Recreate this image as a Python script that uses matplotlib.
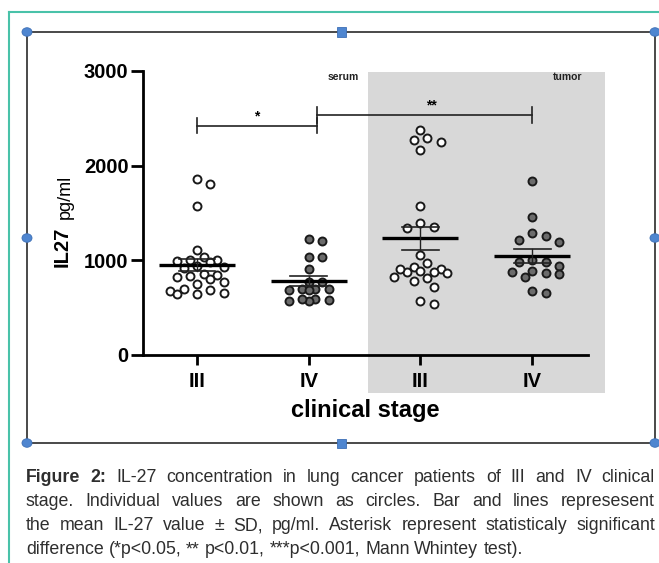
import numpy as np
import matplotlib
matplotlib.use("Agg")
import matplotlib.pyplot as plt
from matplotlib.patches import Rectangle, Circle
from matplotlib.lines import Line2D

# ---------------- data ----------------
stage_labels = ["III", "IV", "III", "IV"]
site_labels = ["serum", "tumor"]
serum_III = [1860, 1810, 1570, 1110, 1030, 1000, 1000, 990, 985, 940, 930, 920,
             860, 850, 830, 820, 800, 770, 750, 700, 690, 680, 650, 640, 640]
serum_IV = [1225, 1200, 1030, 1030, 905, 775, 775, 700, 700, 690, 690, 700,
            595, 580, 570, 575, 590]
tumor_III = [2377, 2271, 2253, 2295, 2165, 1577, 1391, 1338, 1349, 1056, 968, 933,
             905, 887, 880, 880, 905, 820, 785, 817, 863, 722, 535, 570]
tumor_IV = [1841, 1454, 1285, 1215, 1197, 1257, 1003, 979, 979, 940, 887, 852,
            827, 869, 880, 658, 679]
groups = [serum_III, serum_IV, tumor_III, tumor_IV]
filled = [False, True, False, True]
y_ticks = [0, 1000, 2000, 3000]
sig_labels = ["*", "**"]
sig_pairs = [(0, 1.07), (1.07, 3)]
sig_heights = [2420, 2535]
caption_lines = [
    [("Figure", True), ("2:", True), ("IL-27", False), ("concentration", False), ("in", False),
     ("lung", False), ("cancer", False), ("patients", False), ("of", False), ("III", False),
     ("and", False), ("IV", False), ("clinical", False)],
    [(w, False) for w in "stage. Individual values are shown as circles. Bar and lines represesent".split()],
    [(w, False) for w in "the mean IL-27 value \u00b1 SD, pg/ml. Asterisk represent statisticaly significant".split()],
    [(w, False) for w in "difference (*p<0.05, ** p<0.01, ***p<0.001, Mann Whintey test).".split()],
]

# ---------------- figure ----------------
W, H, DPI = 659, 563, 100
plt.rcParams["font.family"] = ["Liberation Sans", "DejaVu Sans"]
cap_family = ["Liberation Sans", "DejaVu Sans"]
cap_font = 12.8

fig = plt.figure(figsize=(W / DPI, H / DPI), dpi=DPI)
fig.patch.set_facecolor("white")


def fx(x):
    return x / W


def fy(y):
    return 1 - y / H


# page decorations (teal page border, selection frame, handles)
teal = "#49c2a9"
fig.add_artist(Line2D([fx(9), fx(W + 5)], [fy(12), fy(12)], color=teal, lw=1.5, zorder=1))
fig.add_artist(Line2D([fx(9), fx(9)], [fy(12), fy(H + 5)], color=teal, lw=1.5, zorder=1))
fig.add_artist(Rectangle((fx(27), fy(443)), fx(628), 411 / H, fill=False,
                         ec="#3a3a3a", lw=1.3, zorder=1))
blue = "#4f86d0"
for (hx, hy) in [(27, 32), (655, 32), (27, 238), (655, 238), (27, 443), (655, 443)]:
    fig.add_artist(Circle((fx(hx), fy(hy)), 5 / W, transform=fig.transFigure,
                          fc=blue, ec="#3d6fb5", lw=0.6, zorder=5))
for (hx, hy) in [(341, 32), (341, 443)]:
    fig.add_artist(Rectangle((fx(hx - 4.5), fy(hy + 4.5)), 9 / W, 9 / H,
                             fc=blue, ec="#3d6fb5", lw=0.6, zorder=5))

# grey tumor panel
fig.add_artist(Rectangle((fx(368), fy(393)), 237 / W, 321 / H, fc="#d8d8d8",
                         ec="none", zorder=-1))

# axes
ax_l, ax_r, ax_t, ax_b = 143, 588, 71, 355
ax = fig.add_axes([fx(ax_l), fy(ax_b), (ax_r - ax_l) / W, (ax_b - ax_t) / H])
ax.patch.set_alpha(0)
xlim = (-0.483, 3.5)
ax.set_xlim(*xlim)
ax.set_ylim(0, 3000)
for s in ["top", "right"]:
    ax.spines[s].set_visible(False)
for s in ["left", "bottom"]:
    ax.spines[s].set_linewidth(2.0)
ax.set_yticks(y_ticks)
ax.set_yticklabels([str(v) for v in y_ticks], fontsize=14.5, fontweight="bold")
ax.set_xticks(range(4))
ax.set_xticklabels(stage_labels, fontsize=14.5, fontweight="bold")
ax.tick_params(axis="y", length=9, width=2.0, pad=1.5)
ax.tick_params(axis="x", length=7, width=2.0, pad=5)

px_per_x = (ax_r - ax_l) / (xlim[1] - xlim[0])
px_per_y = (ax_b - ax_t) / 3000.0


def swarm(values, center, step_px=6.7, min_dist=9.5, max_k=4):
    vals = np.asarray(values, float)
    order = np.argsort(-vals)
    placed = []
    xs = np.zeros(len(vals))
    cand = [0]
    for k in range(1, max_k + 1):
        cand += [k, -k]
    for i in order:
        ypx = vals[i] * px_per_y
        best, best_d = 0, -1
        for k in cand:
            xpx = k * step_px
            d = min([np.hypot(xpx - a, ypx - b) for a, b in placed] or [1e9])
            if d >= min_dist:
                best = xpx
                break
            if d > best_d:
                best, best_d = xpx, d
        placed.append((best, ypx))
        xs[i] = center + best / px_per_x
    return xs


for gi, vals in enumerate(groups):
    xs = swarm(vals, gi)
    fc = "#6b6b6b" if filled[gi] else "white"
    ax.scatter(xs, vals, s=33, facecolor=fc, edgecolor="#1a1a1a", linewidths=1.4,
               zorder=3, clip_on=False)
    v = np.asarray(vals, float)
    m = v.mean()
    se = v.std(ddof=1) / np.sqrt(len(v))
    ax.plot([gi - 0.34, gi + 0.34], [m, m], color="black", lw=2.4, zorder=4,
            solid_capstyle="butt")
    ax.plot([gi, gi], [m - se, m + se], color="#222222", lw=1.0, zorder=4)
    for yy in (m - se, m + se):
        ax.plot([gi - 0.165, gi + 0.165], [yy, yy], color="#222222", lw=1.2, zorder=4)

# significance brackets
cap = 80
for (x0, x1), yb, lab in zip(sig_pairs, sig_heights, sig_labels):
    ax.plot([x0, x1], [yb, yb], color="#222222", lw=1.2, zorder=4)
    for xx in (x0, x1):
        ax.plot([xx, xx], [yb - cap, yb + cap], color="#222222", lw=1.2, zorder=4)
    ax.text((x0 + x1) / 2 if lab == "*" else 2.095, yb + 25, lab, ha="center",
            va="bottom", fontsize=10, fontweight="bold")

ax.text(1.307, 2935, site_labels[0], ha="center", va="center", fontsize=7.5,
        fontweight="bold", color="#222222")
ax.text(3.32, 2935, site_labels[1], ha="center", va="center", fontsize=7.5,
        fontweight="bold", color="#222222")

# axis titles
fig.text(fx(365), fy(410), "clinical stage", ha="center", va="center",
         fontsize=17, fontweight="bold")
fig.text(fx(62), fy(247), "IL27", rotation=90, ha="center", va="center",
         fontsize=14.5, fontweight="bold")
fig.text(fx(65), fy(197), "pg/ml", rotation=90, ha="center", va="center",
         fontsize=13)

# caption, justified
renderer = fig.canvas.get_renderer()
cap_color = "#2e2e2e"


def text_w(s, bold):
    t = fig.text(0, 0, s, fontsize=cap_font, family=cap_family,
                 fontweight="bold" if bold else "normal")
    w = t.get_window_extent(renderer).width
    t.remove()
    return w


space_w = text_w("a a", False) - text_w("aa", False)
left_px, right_px = 26, 655
baselines = [482.5, 506.5, 530.5, 554]
for li, words in enumerate(caption_lines):
    widths = [text_w(w, b) for w, b in words]
    if li < len(caption_lines) - 1:
        gap = (right_px - left_px - sum(widths)) / (len(words) - 1)
    else:
        gap = space_w
    x = left_px
    for (w, b), ww in zip(words, widths):
        fig.text(fx(x), fy(baselines[li]), w, fontsize=cap_font, family=cap_family,
                 fontweight="bold" if b else "normal", color=cap_color,
                 ha="left", va="baseline")
        x += ww + gap

fig.savefig("out.png", dpi=DPI)
